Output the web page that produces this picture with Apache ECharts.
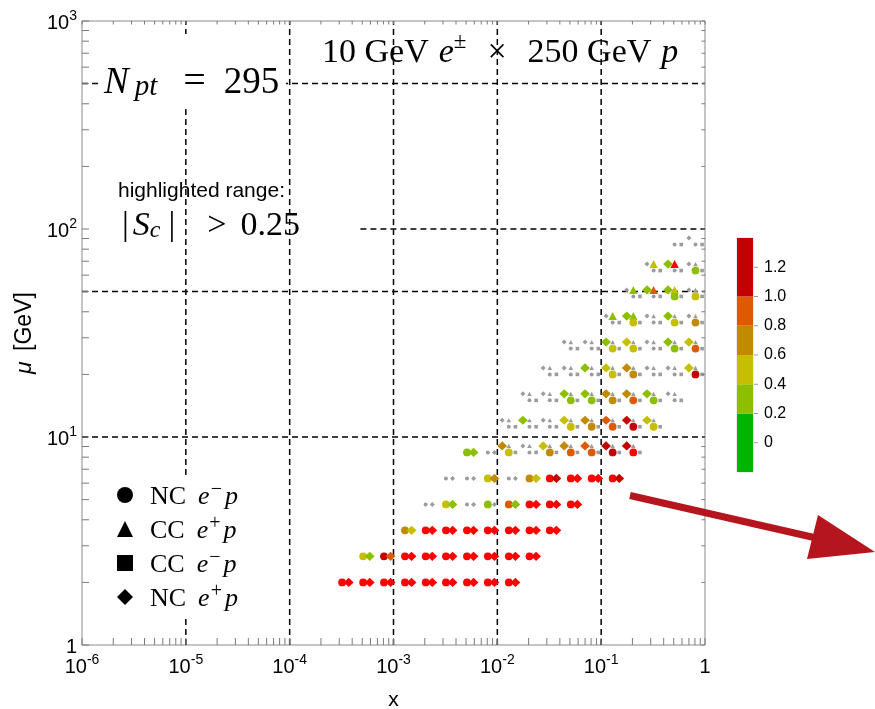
<!DOCTYPE html>
<html>
<head>
<meta charset="utf-8">
<script src="https://cdn.jsdelivr.net/npm/echarts@6/dist/echarts.min.js"></script>
<style>
  html, body { margin: 0; padding: 0; background: #fff; }
  #chart { width: 875px; height: 709px; }
</style>
</head>
<body>
<div id="chart"></div>
<script>
// ---- kinematic bins (bin centres) ----
const xBins = [3.2e-4, 5.1e-4, 8.1e-4, 1.29e-3, 2.04e-3, 3.2e-3, 5.1e-3, 8.1e-3,
               0.0129, 0.0204, 0.032, 0.051, 0.081, 0.129, 0.204, 0.32, 0.51, 0.81];
const muBins = [2.0, 2.67, 3.56, 4.74, 6.32, 8.43, 11.2, 15.0, 20.0, 26.6, 35.5, 47.4, 63.1, 84.2];

// ---- sensitivity S_c per process ----
// each row: [mu bin, first x bin, S_c for consecutive x bins]
const ncEminus = [
  [0, 0, [1.6, 1.6, 1.6, 1.6, 1.6, 1.6, 1.6, 1.6, 1.6]],
  [1, 1, [0.5, 1.2, 1.6, 1.6, 1.6, 1.6, 1.6, 1.6, 1.6]],
  [2, 3, [0.7, 1.6, 1.6, 1.6, 1.6, 1.6, 1.6, 1.6]],
  [3, 4, [0.1, 0.5, 0.1, 0.3, 0.9, 1.6, 1.6, 1.6]],
  [4, 5, [0.1, 0.1, 0.5, 0.1, 0.7, 1.6, 1.6, 1.6, 1.6]],
  [5, 6, [0.3, 0.1, 0.5, 0.1, 0.7, 0.9, 0.9, 1.2, 1.6]],
  [6, 8, [0.1, 0.1, 0.1, 0.5, 0.7, 0.9, 1.2, 0.5]],
  [7, 9, [0.1, 0.1, 0.3, 0.3, 0.7, 0.9, 0.3, 0.1]],
  [8, 10, [0.1, 0.1, 0.1, 0.5, 0.7, 0.1, 0.1, 1.2]],
  [9, 11, [0.1, 0.1, 0.5, 0.5, 0.1, 0.3, 0.9]],
  [10, 13, [0.1, 0.5, 0.1, 0.5, 0.7]],
  [11, 14, [0.1, 0.1, 0.3, 0.5]],
  [12, 15, [0.1, 0.1, 0.3]],
  [13, 16, [0.1, 0.1]]
];
const ccEplus = [
  [5, 8, [0.1, 0.1, 0.1, 0.1, 0.1, 0.1, 0.1]],
  [6, 8, [0.1, 0.1, 0.1, 0.1, 0.1, 0.1, 0.1, 0.1]],
  [7, 9, [0.1, 0.1, 0.1, 0.1, 0.1, 0.1, 0.1, 0.1]],
  [8, 10, [0.1, 0.1, 0.1, 0.1, 0.1, 0.1, 0.1, 0.1]],
  [9, 11, [0.1, 0.1, 0.1, 0.1, 0.1, 0.1, 0.1]],
  [10, 13, [0.3, 0.3, 0.1, 0.1, 0.1]],
  [11, 14, [0.3, 0.9, 0.5, 0.1]],
  [12, 15, [0.5, 1.6, 0.1]]
];
const ccEminus = [
  [5, 8, [0.1, 0.1, 0.1, 0.1, 0.1, 0.1, 0.1]],
  [6, 8, [0.1, 0.1, 0.1, 0.1, 0.1, 0.1, 0.1, 0.1]],
  [7, 9, [0.1, 0.1, 0.1, 0.1, 0.1, 0.1, 0.1, 0.1]],
  [8, 10, [0.1, 0.1, 0.1, 0.1, 0.1, 0.1, 0.1, 0.1]],
  [9, 11, [0.1, 0.1, 0.1, 0.1, 0.1, 0.1, 0.1]],
  [10, 13, [0.1, 0.1, 0.1, 0.1, 0.1]],
  [11, 14, [0.1, 0.1, 0.1, 0.1]],
  [12, 15, [0.1, 0.1, 0.1]],
  [13, 16, [0.1, 0.1]]
];
const ncEplus = [
  [0, 0, [1.6, 1.6, 1.6, 1.6, 1.6, 1.6, 1.6, 1.6, 1.6]],
  [1, 1, [0.3, 0.9, 1.6, 1.6, 1.6, 1.6, 1.6, 1.6, 1.6]],
  [2, 3, [0.5, 1.6, 1.6, 1.6, 1.6, 1.6, 1.6, 1.6]],
  [3, 4, [0.1, 0.3, 0.1, 0.1, 0.3, 1.6, 1.6, 1.6]],
  [4, 5, [0.1, 0.1, 0.7, 0.1, 0.5, 1.2, 1.6, 1.6, 1.2]],
  [5, 6, [0.3, 0.1, 0.7, 0.1, 0.5, 0.7, 0.9, 1.2, 1.2]],
  [6, 8, [0.1, 0.3, 0.1, 0.5, 0.7, 0.9, 1.2, 0.5]],
  [7, 9, [0.1, 0.1, 0.3, 0.3, 0.7, 0.7, 0.3, 0.1]],
  [8, 10, [0.1, 0.1, 0.3, 0.5, 0.7, 0.1, 0.1, 0.5]],
  [9, 11, [0.1, 0.1, 0.3, 0.5, 0.1, 0.3, 0.5]],
  [10, 13, [0.1, 0.3, 0.1, 0.3, 0.1]],
  [11, 14, [0.1, 0.3, 0.3, 0.1]],
  [12, 15, [0.1, 0.3, 0.1]],
  [13, 17, [0.1]]
];

// ---- axes and colour scale ----
const xTickExp = [-6, -5, -4, -3, -2, -1, 0];
const yTickExp = [0, 1, 2, 3];
const cbTicks = [0, 0.2, 0.4, 0.6, 0.8, 1.0, 1.2];
const cbTickLabels = ['0', '0.2', '0.4', '0.6', '0.8', '1.0', '1.2'];
const bandLo = [-0.2, 0.2, 0.4, 0.6, 0.8, 1.0];
const bandHi = [0.2, 0.4, 0.6, 0.8, 1.0, 1.4];
const bandColors = ['#00b400', '#8dbf00', '#c6bf00', '#c28a00', '#de5a00', '#c40000'];
const overColor = '#ff0000';
const grayColor = '#9c9c9c';
const highlightCut = 0.25;

function colorOf(v) {
  if (Math.abs(v) < highlightCut) return grayColor;
  if (v >= bandHi[bandHi.length - 1]) return overColor;
  for (let k = 0; k < bandLo.length; k++) {
    if (v >= bandLo[k] && v < bandHi[k]) return bandColors[k];
  }
  return bandColors[0];
}

function expand(rows) {
  const out = [];
  rows.forEach(([j, i0, vals]) => vals.forEach((v, k) => out.push({ i: i0 + k, j: j, v: v })));
  return out;
}

// bins that also carry charged-current points use the four-marker layout
const ccBins = new Set(expand(ccEplus).concat(expand(ccEminus)).map(p => p.j * 100 + p.i));
const DX = 6.6, DY = 6.5;

const processes = [
  { name: 'CC e−p', rows: ccEminus, symbol: 'rect', big: 7, small: 3.6, off: () => [DX, 0] },
  { name: 'CC e+p', rows: ccEplus, symbol: 'triangle', big: [8.5, 8], small: [4.6, 4.2], off: () => [0, -DY] },
  { name: 'NC e−p', rows: ncEminus, symbol: 'circle', big: 7.8, small: 4, off: () => [0, 0] },
  { name: 'NC e+p', rows: ncEplus, symbol: 'diamond', big: [9.8, 9.2], small: [5, 5], off: cc => (cc ? [-DX, -DY] : [DX, 0]) }
];

const scatterSeries = processes.map(p => {
  const pts = expand(p.rows).sort((a, b) => (Math.abs(a.v) < highlightCut ? 0 : 1) - (Math.abs(b.v) < highlightCut ? 0 : 1));
  return {
    type: 'scatter',
    name: p.name,
    symbol: p.symbol,
    xAxisIndex: 0, yAxisIndex: 0,
    z: 3,
    itemStyle: { color: '#000', opacity: 1 },
    emphasis: { disabled: true },
    data: pts.map(pt => {
      const gray = Math.abs(pt.v) < highlightCut;
      return {
        value: [xBins[pt.i], muBins[pt.j], pt.v],
        symbolSize: gray ? p.small : p.big,
        symbolOffset: p.off(ccBins.has(pt.j * 100 + pt.i)),
        itemStyle: { color: colorOf(pt.v), opacity: 1 }
      };
    })
  };
});

// dashed reference lines [x1, mu1, x2, mu2]
const refLines = [
  [1e-5, 1, 1e-5, 1000], [1e-4, 1, 1e-4, 1000], [1e-3, 1, 1e-3, 1000],
  [1e-2, 1, 1e-2, 1000], [1e-1, 1, 1e-1, 1000],
  [1e-6, 10, 1, 10], [1e-6, 50, 1, 50], [4.8e-4, 100, 1, 100], [1e-6, 500, 1, 500]
];

// log-axis tick marks (decades and 2..9 subdivisions)
const tickData = [];
for (let e = -6; e < 0; e++) for (let m = 1; m <= 9; m++) tickData.push([m * Math.pow(10, e), 1, 0]);
tickData.push([1, 1, 0]);
for (let e = 0; e < 3; e++) for (let m = 1; m <= 9; m++) tickData.push([1e-6, m * Math.pow(10, e), 1]);
tickData.push([1e-6, 1000, 1]);

const tickStyle = { stroke: '#7a7a7a', lineWidth: 1 };

function powLabel(exps) {
  return function (v) {
    const l = Math.log10(v);
    const e = Math.round(l);
    if (Math.abs(l - e) > 1e-6 || exps.indexOf(e) < 0) return '';
    return e === 0 ? '{b|1}' : '{b|10}{s|' + e + '}';
  };
}
const powRich = {
  b: { fontFamily: 'Liberation Sans', fontSize: 20, color: '#000', lineHeight: 24, verticalAlign: 'bottom' },
  s: { fontFamily: 'Liberation Sans', fontSize: 14, color: '#000', lineHeight: 14, verticalAlign: 'top' }
};

const legendLabels = {
  'NC e−p': '{n|NC}{i|e}{s|−}{i|p}',
  'CC e+p': '{n|CC}{i|e}{s|+}{i|p}',
  'CC e−p': '{n|CC}{i|e}{s|−}{i|p}',
  'NC e+p': '{n|NC}{i|e}{s|+}{i|p}'
};
const legendOrder = ['NC e−p', 'CC e+p', 'CC e−p', 'NC e+p'];
const legendIcons = ['circle', 'triangle', 'rect', 'diamond'];

const serifTok = (size, italic, lh, va, extra) => Object.assign({
  fontFamily: 'Liberation Serif', fontSize: size, fontStyle: italic ? 'italic' : 'normal',
  fill: '#000', lineHeight: lh, verticalAlign: va
}, extra || {});

const option = {
  animation: false,
  backgroundColor: '#fff',
  grid: [
    { left: 82, top: 21, width: 623, height: 624, outerBoundsMode: 'none', containLabel: false,
      show: true, borderColor: '#8a8a8a', borderWidth: 1, backgroundColor: 'transparent' },
    { left: 737, top: 238, width: 16, height: 234, outerBoundsMode: 'none', containLabel: false,
      show: true, borderColor: '#b0b0b0', borderWidth: 0.5, backgroundColor: 'transparent' }
  ],
  xAxis: [
    {
      type: 'log', logBase: 10, min: 1e-6, max: 1, gridIndex: 0,
      axisLine: { show: false }, axisTick: { show: false }, splitLine: { show: false },
      axisLabel: { margin: 8, formatter: powLabel(xTickExp), rich: powRich },
      name: 'x', nameLocation: 'middle', nameGap: 45,
      nameTextStyle: { fontFamily: 'Liberation Sans', fontSize: 21, color: '#000' }
    },
    { type: 'value', gridIndex: 1, min: 0, max: 1, show: false }
  ],
  yAxis: [
    {
      type: 'log', logBase: 10, min: 1, max: 1000, gridIndex: 0,
      axisLine: { show: false }, axisTick: { show: false }, splitLine: { show: false },
      axisLabel: { margin: 5, formatter: powLabel(yTickExp), rich: powRich },
      name: '{i|μ}{r| [GeV]}', nameLocation: 'middle', nameGap: 42, nameRotate: 90,
      nameTextStyle: {
        color: '#000',
        rich: {
          i: { fontFamily: 'Liberation Sans', fontSize: 23, fontStyle: 'italic', color: '#000', padding: [0, 4, 0, 0] },
          r: { fontFamily: 'Liberation Sans', fontSize: 23, color: '#000' }
        }
      }
    },
    {
      type: 'value', gridIndex: 1, min: -0.2, max: 1.4, interval: 0.2, position: 'right',
      axisLine: { show: false }, axisTick: { show: false }, splitLine: { show: false },
      axisLabel: {
        margin: 11, fontFamily: 'Liberation Sans', fontSize: 16, color: '#000',
        formatter: v => {
          const k = cbTicks.findIndex(t => Math.abs(t - v) < 1e-6);
          return k < 0 ? '' : cbTickLabels[k];
        }
      }
    }
  ],
  legend: {
    orient: 'vertical', left: 100, top: 476,
    padding: [4, 16, 4, 17], itemGap: 4, itemWidth: 16, itemHeight: 16,
    backgroundColor: '#fff', selectedMode: false,
    data: legendOrder.map((n, k) => ({ name: n, icon: legendIcons[k], itemStyle: { color: '#000' } })),
    formatter: n => legendLabels[n],
    textStyle: {
      rich: {
        n: { fontFamily: 'Liberation Serif', fontSize: 26, color: '#000', lineHeight: 30, verticalAlign: 'bottom', padding: [0, 12, 0, 12] },
        i: { fontFamily: 'Liberation Serif', fontSize: 26, fontStyle: 'italic', color: '#000', lineHeight: 30, verticalAlign: 'bottom' },
        s: { fontFamily: 'Liberation Serif', fontSize: 20, color: '#000', lineHeight: 18, verticalAlign: 'top', padding: [0, 3, 0, 1] }
      }
    }
  },
  series: [
    {
      type: 'custom', name: 'reference lines', xAxisIndex: 0, yAxisIndex: 0, z: 1, silent: true,
      data: refLines, encode: { x: [0, 2], y: [1, 3] },
      renderItem: (params, api) => {
        const a = api.coord([api.value(0), api.value(1)]);
        const b = api.coord([api.value(2), api.value(3)]);
        return { type: 'line', shape: { x1: a[0], y1: a[1], x2: b[0], y2: b[1] },
                 style: { stroke: '#000', lineWidth: 1.5, lineDash: [6, 4] } };
      }
    },
    {
      type: 'custom', name: 'ticks', xAxisIndex: 0, yAxisIndex: 0, z: 5, silent: true,
      data: tickData, encode: { x: 0, y: 1 },
      renderItem: (params, api) => {
        const v0 = api.value(0), v1 = api.value(1), kind = api.value(2);
        if (kind === 0) {
          const b = api.coord([v0, 1]), t = api.coord([v0, 1000]);
          return { type: 'group', children: [
            { type: 'line', shape: { x1: b[0], y1: b[1], x2: b[0], y2: b[1] - 7 }, style: tickStyle },
            { type: 'line', shape: { x1: t[0], y1: t[1], x2: t[0], y2: t[1] + 3.5 }, style: tickStyle }
          ] };
        }
        const l = api.coord([1e-6, v1]), r = api.coord([1, v1]);
        return { type: 'group', children: [
          { type: 'line', shape: { x1: l[0], y1: l[1], x2: l[0] + 7, y2: l[1] }, style: tickStyle },
          { type: 'line', shape: { x1: r[0], y1: r[1], x2: r[0] - 3.5, y2: r[1] }, style: tickStyle }
        ] };
      }
    },
    ...scatterSeries,
    {
      type: 'custom', name: 'colour scale', xAxisIndex: 1, yAxisIndex: 1, z: 2, silent: true,
      data: bandLo.map((lo, k) => [0, lo, bandHi[k], k]), encode: { x: 0, y: [1, 2] },
      renderItem: (params, api) => {
        const a = api.coord([0, api.value(2)]);
        const b = api.coord([1, api.value(1)]);
        return { type: 'rect', shape: { x: a[0], y: a[1], width: b[0] - a[0], height: b[1] - a[1] },
                 style: { fill: bandColors[api.value(3)] } };
      }
    },
    {
      type: 'custom', name: 'colour scale ticks', xAxisIndex: 1, yAxisIndex: 1, z: 2, silent: true,
      data: cbTicks.map(v => [1, v]), encode: { x: 0, y: 1 },
      renderItem: (params, api) => {
        const p = api.coord([1, api.value(1)]);
        return { type: 'line', shape: { x1: p[0] + 1, y1: p[1], x2: p[0] + 5, y2: p[1] },
                 style: { stroke: '#999', lineWidth: 1 } };
      }
    }
  ],
  graphic: [
    { type: 'rect', z: 10, shape: { x: 100, y: 34, width: 186, height: 72 }, style: { fill: '#fff' } },
    {
      type: 'text', z: 11, x: 104, y: 58,
      style: {
        text: '{N|N}{sub|pt}{eq|=}{num|295}',
        rich: {
          N: serifTok(37, true, 44, 'bottom', { padding: [0, 6, 0, 0] }),
          sub: serifTok(29, true, 30, 'bottom'),
          eq: serifTok(40, false, 44, 'bottom', { padding: [0, 18, 0, 26] }),
          num: serifTok(37, false, 44, 'bottom')
        }
      }
    },
    {
      type: 'text', z: 11, x: 322, y: 30,
      style: {
        text: '{r|10 GeV}{i|e}{sup|±}{x|×}{r|250 GeV}{i|p}',
        rich: {
          r: serifTok(34, false, 40, 'bottom', { padding: [0, 10, 0, 0] }),
          i: serifTok(34, true, 40, 'bottom'),
          sup: serifTok(23, false, 22, 'top'),
          x: serifTok(34, false, 40, 'bottom', { padding: [0, 21, 0, 21] })
        }
      }
    },
    {
      type: 'text', z: 11, x: 118, y: 181,
      style: { text: 'highlighted range:', font: '21px "Liberation Sans"', fill: '#000' }
    },
    {
      type: 'text', z: 11, x: 122, y: 203,
      style: {
        text: '{bar|\u007c}{i|S}{sub|c}{bar2|\u007c}{gt|>}{r|0.25}',
        rich: {
          bar: serifTok(34, false, 40, 'bottom', { padding: [0, 4, 0, 0] }),
          i: serifTok(34, true, 40, 'bottom'),
          sub: serifTok(24, true, 28, 'bottom', { padding: [0, 8, 0, 0] }),
          bar2: serifTok(34, false, 40, 'bottom', { padding: [0, 32, 0, 0] }),
          gt: serifTok(34, false, 40, 'bottom', { padding: [0, 14, 0, 0] }),
          r: serifTok(34, false, 40, 'bottom')
        }
      }
    },
    { type: 'line', z: 12, shape: { x1: 630, y1: 495.5, x2: 814, y2: 537.5 }, style: { stroke: '#b5161d', lineWidth: 7 } },
    { type: 'polygon', z: 12, shape: { points: [[818, 515], [875, 552], [807, 559]] }, style: { fill: '#b5161d' } }
  ]
};

const chart = echarts.init(document.getElementById('chart'), null, { renderer: 'canvas' });
chart.setOption(option);
</script>
</body>
</html>
